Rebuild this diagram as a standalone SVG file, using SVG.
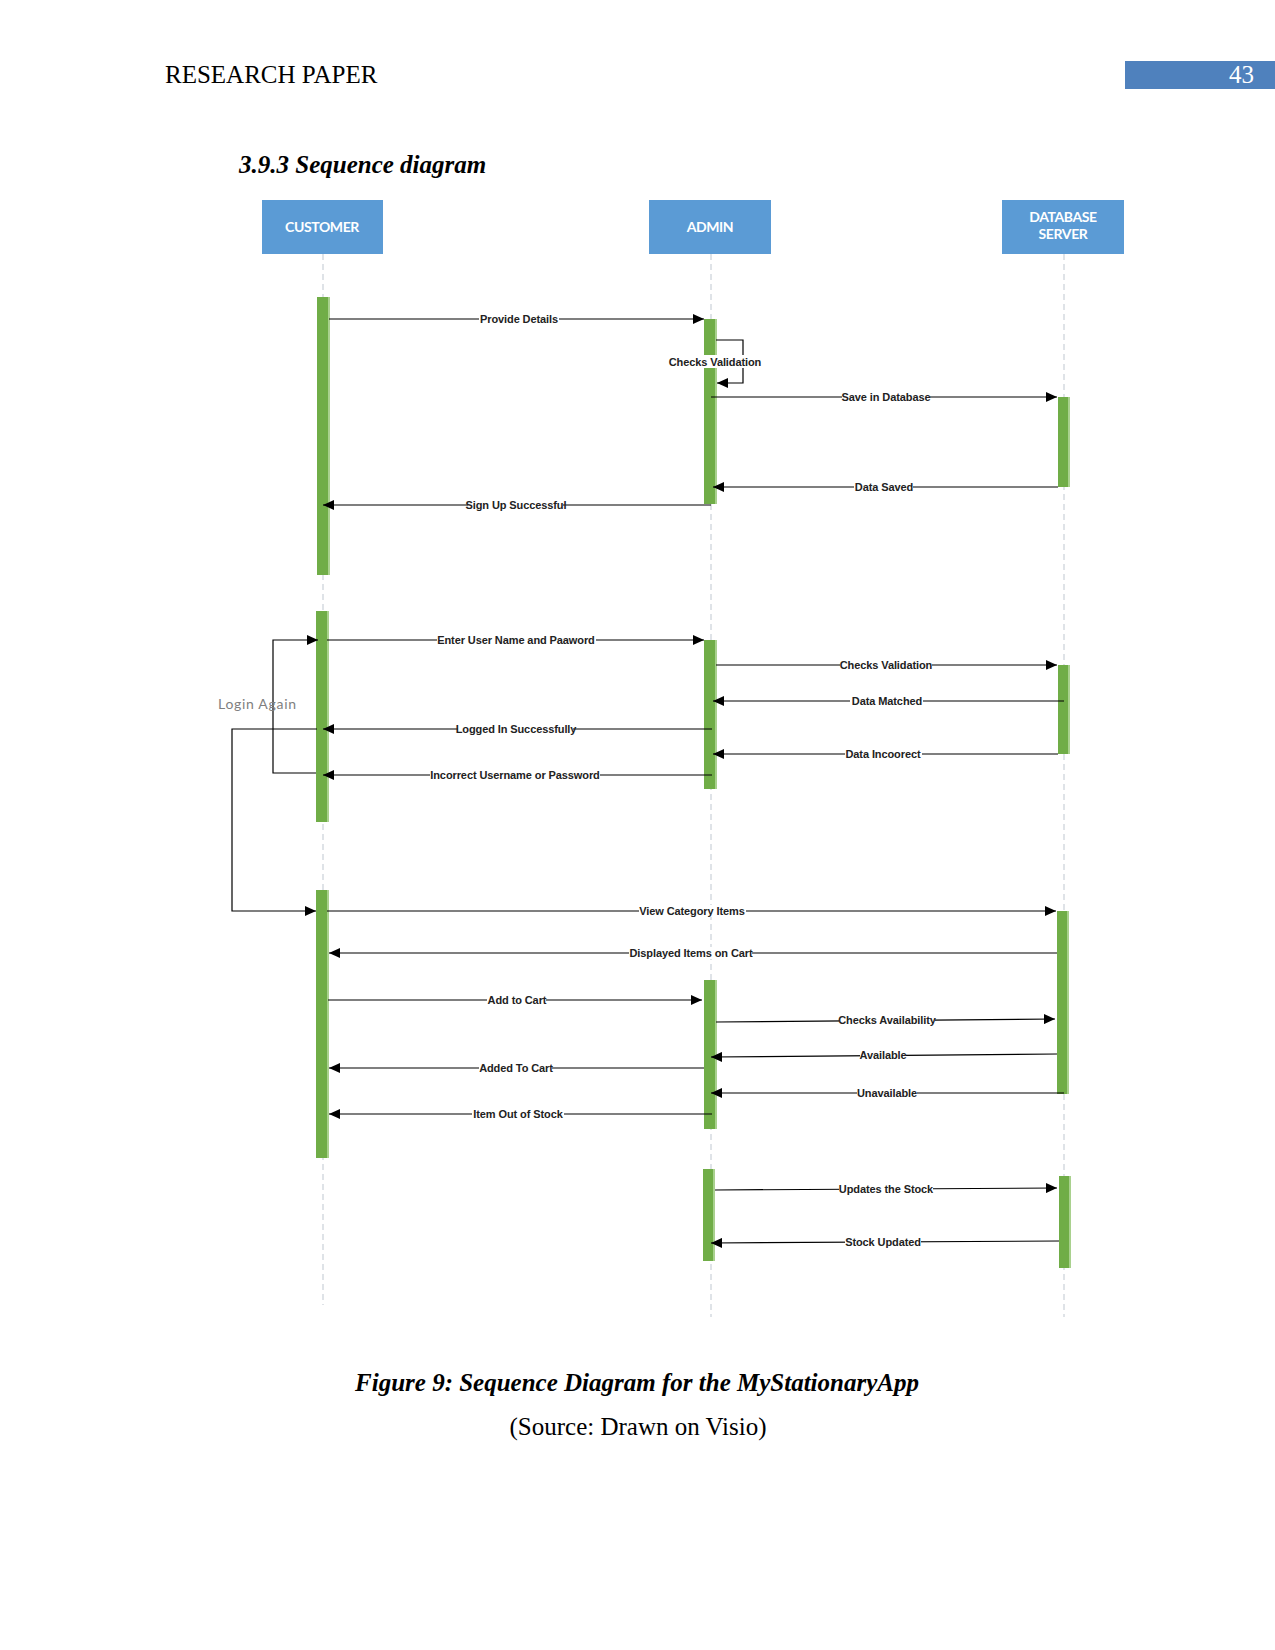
<svg xmlns="http://www.w3.org/2000/svg" width="1275" height="1650" viewBox="0 0 1275 1650">
<style>
.page{font-family:"Liberation Serif","Times New Roman",serif;fill:#000}
.hdr{fill:#5B9BD5}
.hdrt{font-family:Lato,"Open Sans",sans-serif;font-weight:bold;font-size:14px;fill:#fff;text-anchor:middle;letter-spacing:-0.4px}
.life{stroke:#BFC7D0;stroke-width:1;stroke-dasharray:6 4;fill:none}
.act{fill:#70AD47}
.acte{fill:#A9D18E}
.msg{stroke:#000;stroke-width:1.2;fill:none}
.lbl{font-family:"Liberation Sans",Arial,sans-serif;font-weight:bold;font-size:11px;fill:#222;text-anchor:middle;letter-spacing:-0.1px}
.lbg{fill:#fff}
</style>
<defs>
<marker id="ah" markerUnits="userSpaceOnUse" markerWidth="12" markerHeight="10" refX="11" refY="5" orient="auto">
<path d="M0,0 L11,5 L0,10 z" fill="#000"/>
</marker>
</defs>
<rect width="1275" height="1650" fill="#fff"/>

<!-- page header -->
<text class="page" x="165" y="83" font-size="25">RESEARCH PAPER</text>
<rect x="1125" y="61" width="150" height="28" fill="#4F81BD"/>
<text class="page" x="1254" y="83" font-size="25" style="fill:#fff" text-anchor="end">43</text>
<text class="page" x="239" y="173" font-size="25" font-weight="bold" font-style="italic">3.9.3 Sequence diagram</text>

<!-- lifelines -->
<g id="lifelines">
<line class="life" x1="323" y1="254" x2="323" y2="1305"/>
<line class="life" x1="711" y1="254" x2="711" y2="1317"/>
<line class="life" x1="1064" y1="254" x2="1064" y2="1317"/>
</g>

<!-- participants -->
<g id="customer">
<rect class="hdr" x="262" y="200" width="121" height="54"/>
<text class="hdrt" x="322" y="232">CUSTOMER</text>
</g>
<g id="admin">
<rect class="hdr" x="649" y="200" width="122" height="54"/>
<text class="hdrt" x="710" y="232">ADMIN</text>
</g>
<g id="database-server">
<rect class="hdr" x="1002" y="200" width="122" height="54"/>
<text class="hdrt" x="1063" y="222">DATABASE</text>
<text class="hdrt" x="1063" y="239">SERVER</text>
</g>

<!-- activation bars -->
<g id="activations">
<g id="cust-act-1"><rect class="act" x="317" y="297" width="11" height="278"/><rect class="acte" x="328" y="297" width="2" height="278"/></g>
<g id="admin-act-1"><rect class="act" x="704" y="319" width="11" height="185"/><rect class="acte" x="715" y="319" width="2" height="185"/></g>
<g id="db-act-1"><rect class="act" x="1058" y="397" width="10" height="90"/><rect class="acte" x="1068" y="397" width="2" height="90"/></g>
<g id="cust-act-2"><rect class="act" x="316" y="611" width="11" height="211"/><rect class="acte" x="327" y="611" width="2" height="211"/></g>
<g id="admin-act-2"><rect class="act" x="704" y="640" width="11" height="149"/><rect class="acte" x="715" y="640" width="2" height="149"/></g>
<g id="db-act-2"><rect class="act" x="1058" y="665" width="10" height="89"/><rect class="acte" x="1068" y="665" width="2" height="89"/></g>
<g id="cust-act-3"><rect class="act" x="316" y="890" width="11" height="268"/><rect class="acte" x="327" y="890" width="2" height="268"/></g>
<g id="db-act-3"><rect class="act" x="1057" y="911" width="10" height="183"/><rect class="acte" x="1067" y="911" width="2" height="183"/></g>
<g id="admin-act-3"><rect class="act" x="704" y="980" width="11" height="149"/><rect class="acte" x="715" y="980" width="2" height="149"/></g>
<g id="admin-act-4"><rect class="act" x="703" y="1169" width="10" height="92"/><rect class="acte" x="713" y="1169" width="2" height="92"/></g>
<g id="db-act-4"><rect class="act" x="1059" y="1176" width="10" height="92"/><rect class="acte" x="1069" y="1176" width="2" height="92"/></g>
</g>

<!-- connectors -->
<g id="connectors">
<!-- section 1 -->
<line class="msg" x1="329" y1="319" x2="704" y2="319" marker-end="url(#ah)"/>
<path class="msg" d="M716,340 H743 V383 H717" marker-end="url(#ah)"/>
<line class="msg" x1="711" y1="397" x2="1057" y2="397" marker-end="url(#ah)"/>
<line class="msg" x1="1058" y1="487" x2="713" y2="487" marker-end="url(#ah)"/>
<line class="msg" x1="711" y1="505" x2="323" y2="505" marker-end="url(#ah)"/>
<!-- section 2 -->
<path class="msg" d="M316,773 H273 V640 H318" marker-end="url(#ah)"/>
<line class="msg" x1="327" y1="640" x2="704" y2="640" marker-end="url(#ah)"/>
<line class="msg" x1="716" y1="665" x2="1057" y2="665" marker-end="url(#ah)"/>
<line class="msg" x1="1064" y1="701" x2="713" y2="701" marker-end="url(#ah)"/>
<line class="msg" x1="712" y1="729" x2="323" y2="729" marker-end="url(#ah)"/>
<line class="msg" x1="1058" y1="754" x2="713" y2="754" marker-end="url(#ah)"/>
<line class="msg" x1="712" y1="775" x2="323" y2="775" marker-end="url(#ah)"/>
<path class="msg" d="M317,729 H232 V911 H316" marker-end="url(#ah)"/>
<!-- section 3 -->
<line class="msg" x1="327" y1="911" x2="1056" y2="911" marker-end="url(#ah)"/>
<line class="msg" x1="1057" y1="953" x2="329" y2="953" marker-end="url(#ah)"/>
<line class="msg" x1="328" y1="1000" x2="702" y2="1000" marker-end="url(#ah)"/>
<line class="msg" x1="716" y1="1022" x2="1055" y2="1019" marker-end="url(#ah)"/>
<line class="msg" x1="1057" y1="1054" x2="711" y2="1057" marker-end="url(#ah)"/>
<line class="msg" x1="704" y1="1068" x2="329" y2="1068" marker-end="url(#ah)"/>
<line class="msg" x1="1064" y1="1093" x2="711" y2="1093" marker-end="url(#ah)"/>
<line class="msg" x1="712" y1="1114" x2="329" y2="1114" marker-end="url(#ah)"/>
<!-- section 4 -->
<line class="msg" x1="715" y1="1190" x2="1057" y2="1188" marker-end="url(#ah)"/>
<line class="msg" x1="1059" y1="1241" x2="711" y2="1243" marker-end="url(#ah)"/>
</g>

<!-- message labels -->
<g id="labels">
<rect class="lbg" x="479" y="313" width="80" height="12"/><text class="lbl" x="519" y="323">Provide Details</text>
<rect class="lbg" x="669" y="355" width="92" height="13"/><text class="lbl" x="715" y="365.5">Checks Validation</text>
<rect class="lbg" x="842" y="391" width="88" height="12"/><text class="lbl" x="886" y="401">Save in Database</text>
<rect class="lbg" x="854" y="481" width="59" height="12"/><text class="lbl" x="884" y="491">Data Saved</text>
<rect class="lbg" x="468" y="499" width="95" height="12"/><text class="lbl" x="516" y="509">Sign Up Successful</text>
<rect class="lbg" x="437" y="634" width="159" height="12"/><text class="lbl" x="516" y="644">Enter User Name and Paaword</text>
<rect class="lbg" x="840" y="659" width="92" height="12"/><text class="lbl" x="886" y="669">Checks Validation</text>
<rect class="lbg" x="850" y="695" width="73" height="12"/><text class="lbl" x="887" y="705">Data Matched</text>
<rect class="lbg" x="458" y="723" width="115" height="12"/><text class="lbl" x="516" y="733">Logged In Successfully</text>
<rect class="lbg" x="845" y="748" width="77" height="12"/><text class="lbl" x="883" y="758">Data Incoorect</text>
<rect class="lbg" x="430" y="769" width="170" height="12"/><text class="lbl" x="515" y="779">Incorrect Username or Password</text>
<rect class="lbg" x="639" y="905" width="107" height="12"/><text class="lbl" x="692" y="915">View Category Items</text>
<rect class="lbg" x="629" y="947" width="123" height="12"/><text class="lbl" x="691" y="957">Displayed Items on Cart</text>
<rect class="lbg" x="487" y="994" width="59" height="12"/><text class="lbl" x="517" y="1004">Add to Cart</text>
<rect class="lbg" x="839" y="1014" width="96" height="12"/><text class="lbl" x="887" y="1024">Checks Availability</text>
<rect class="lbg" x="860" y="1049" width="46" height="12"/><text class="lbl" x="883" y="1059">Available</text>
<rect class="lbg" x="479" y="1062" width="73" height="12"/><text class="lbl" x="516" y="1072">Added To Cart</text>
<rect class="lbg" x="857" y="1087" width="60" height="12"/><text class="lbl" x="887" y="1097">Unavailable</text>
<rect class="lbg" x="472" y="1108" width="92" height="12"/><text class="lbl" x="518" y="1118">Item Out of Stock</text>
<rect class="lbg" x="839" y="1183" width="94" height="12"/><text class="lbl" x="886" y="1193">Updates the Stock</text>
<rect class="lbg" x="845" y="1236" width="76" height="12"/><text class="lbl" x="883" y="1246">Stock Updated</text>
<text x="218" y="709" font-family="Lato,'Open Sans',sans-serif" font-size="14" letter-spacing="0.7" fill="#7F7F7F">Login Again</text>
</g>

<!-- caption -->
<text class="page" x="637" y="1391" font-size="25" font-weight="bold" font-style="italic" text-anchor="middle">Figure 9: Sequence Diagram for the MyStationaryApp</text>
<text class="page" x="638" y="1435" font-size="25" text-anchor="middle">(Source: Drawn on Visio)</text>
</svg>
